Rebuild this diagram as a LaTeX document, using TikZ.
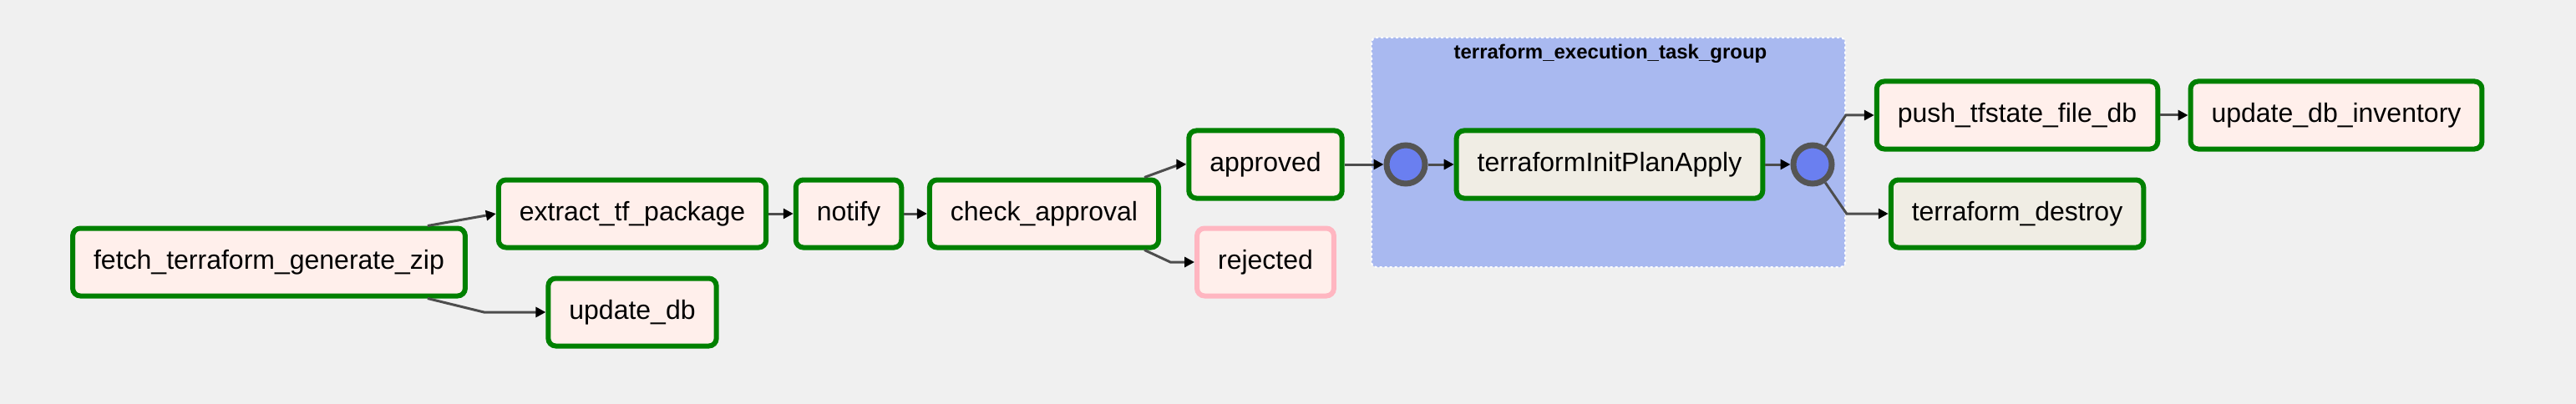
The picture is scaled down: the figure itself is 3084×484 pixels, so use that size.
\documentclass[tikz,border=0pt]{standalone}
\usepackage{fontspec}
\setmainfont{Liberation Sans}
\usetikzlibrary{arrows.meta}

\definecolor{canvas}{RGB}{240,240,240}
\definecolor{pyfill}{RGB}{255,239,235}
\definecolor{bashfill}{RGB}{240,237,228}
\definecolor{okgreen}{RGB}{0,128,0}
\definecolor{skippink}{RGB}{255,182,193}
\definecolor{groupblue}{RGB}{169,185,240}
\definecolor{joinblue}{RGB}{106,127,240}
\definecolor{ringgray}{RGB}{85,85,85}
\definecolor{edgegray}{RGB}{77,77,77}

\tikzset{
    task/.style={draw=okgreen, line width=6pt, fill=pyfill, rounded corners=9pt,
        minimum height=81pt, inner xsep=25pt, text height=24pt, text depth=7pt,
        font=\fontsize{32}{38}\selectfont},
    bashtask/.style={task, fill=bashfill},
    skipped/.style={task, draw=skippink},
    joinnode/.style={circle, draw=ringgray, line width=7pt, fill=joinblue, minimum size=46pt, inner sep=0pt},
    edge/.style={draw=edgegray, line width=3pt, -{Triangle[length=12pt,width=12pt,color=black]}},
    groupbox/.style={fill=groupblue, draw=white, line width=2pt, dashed, rounded corners=6pt}
}

\begin{document}
\begin{tikzpicture}[x=1pt,y=-1pt]
    \fill[canvas] (0,0) rectangle (3084,484);
    \useasboundingbox (0,0) rectangle (3084,484);

    \draw[groupbox] (1642,45) rectangle (2209,320);
    \node[font=\fontsize{24}{28}\selectfont\bfseries] (grouptitle) at (1928,64) {terraform\_execution\_task\_group};

    \node[task] (fetch) at (322,314) {fetch\_terraform\_generate\_zip};
    \node[task] (extract) at (757,256) {extract\_tf\_package};
    \node[task] (updatedb) at (757,374) {update\_db};
    \node[task] (notify) at (1016,256) {notify};
    \node[task] (check) at (1250,256) {check\_approval};
    \node[task] (approved) at (1515,197) {approved};
    \node[skipped] (rejected) at (1515,314) {rejected};
    \node[joinnode] (joinin) at (1683,197) {};
    \node[bashtask] (initplan) at (1927,197) {terraformInitPlanApply};
    \node[joinnode] (joinout) at (2170,197) {};
    \node[task] (pushstate) at (2415,138) {push\_tfstate\_file\_db};
    \node[task] (inventory) at (2797,138) {update\_db\_inventory};
    \node[bashtask] (destroy) at (2415,256) {terraform\_destroy};

    \draw[edge] ([xshift=-48pt]fetch.north east) -- (extract.west);
    \draw[edge] ([xshift=-48pt]fetch.south east) -- ([xshift=-74pt]updatedb.west) -- (updatedb.west);
    \draw[edge] (extract) -- (notify);
    \draw[edge] (notify) -- (check);
    \draw[edge] ([xshift=-20pt]check.north east) -- ([xshift=-8pt]approved.west) -- (approved.west);
    \draw[edge] ([xshift=-20pt]check.south east) -- ([xshift=-29pt]rejected.west) -- (rejected.west);
    \draw[edge] (approved) -- (joinin);
    \draw[edge] (joinin) -- (initplan);
    \draw[edge] (initplan) -- (joinout);
    \draw[edge] (joinout.55) -- ([xshift=-34pt]pushstate.west) -- (pushstate.west);
    \draw[edge] (joinout.-55) -- ([xshift=-50pt]destroy.west) -- (destroy.west);
    \draw[edge] (pushstate) -- (inventory);
\end{tikzpicture}
\end{document}
